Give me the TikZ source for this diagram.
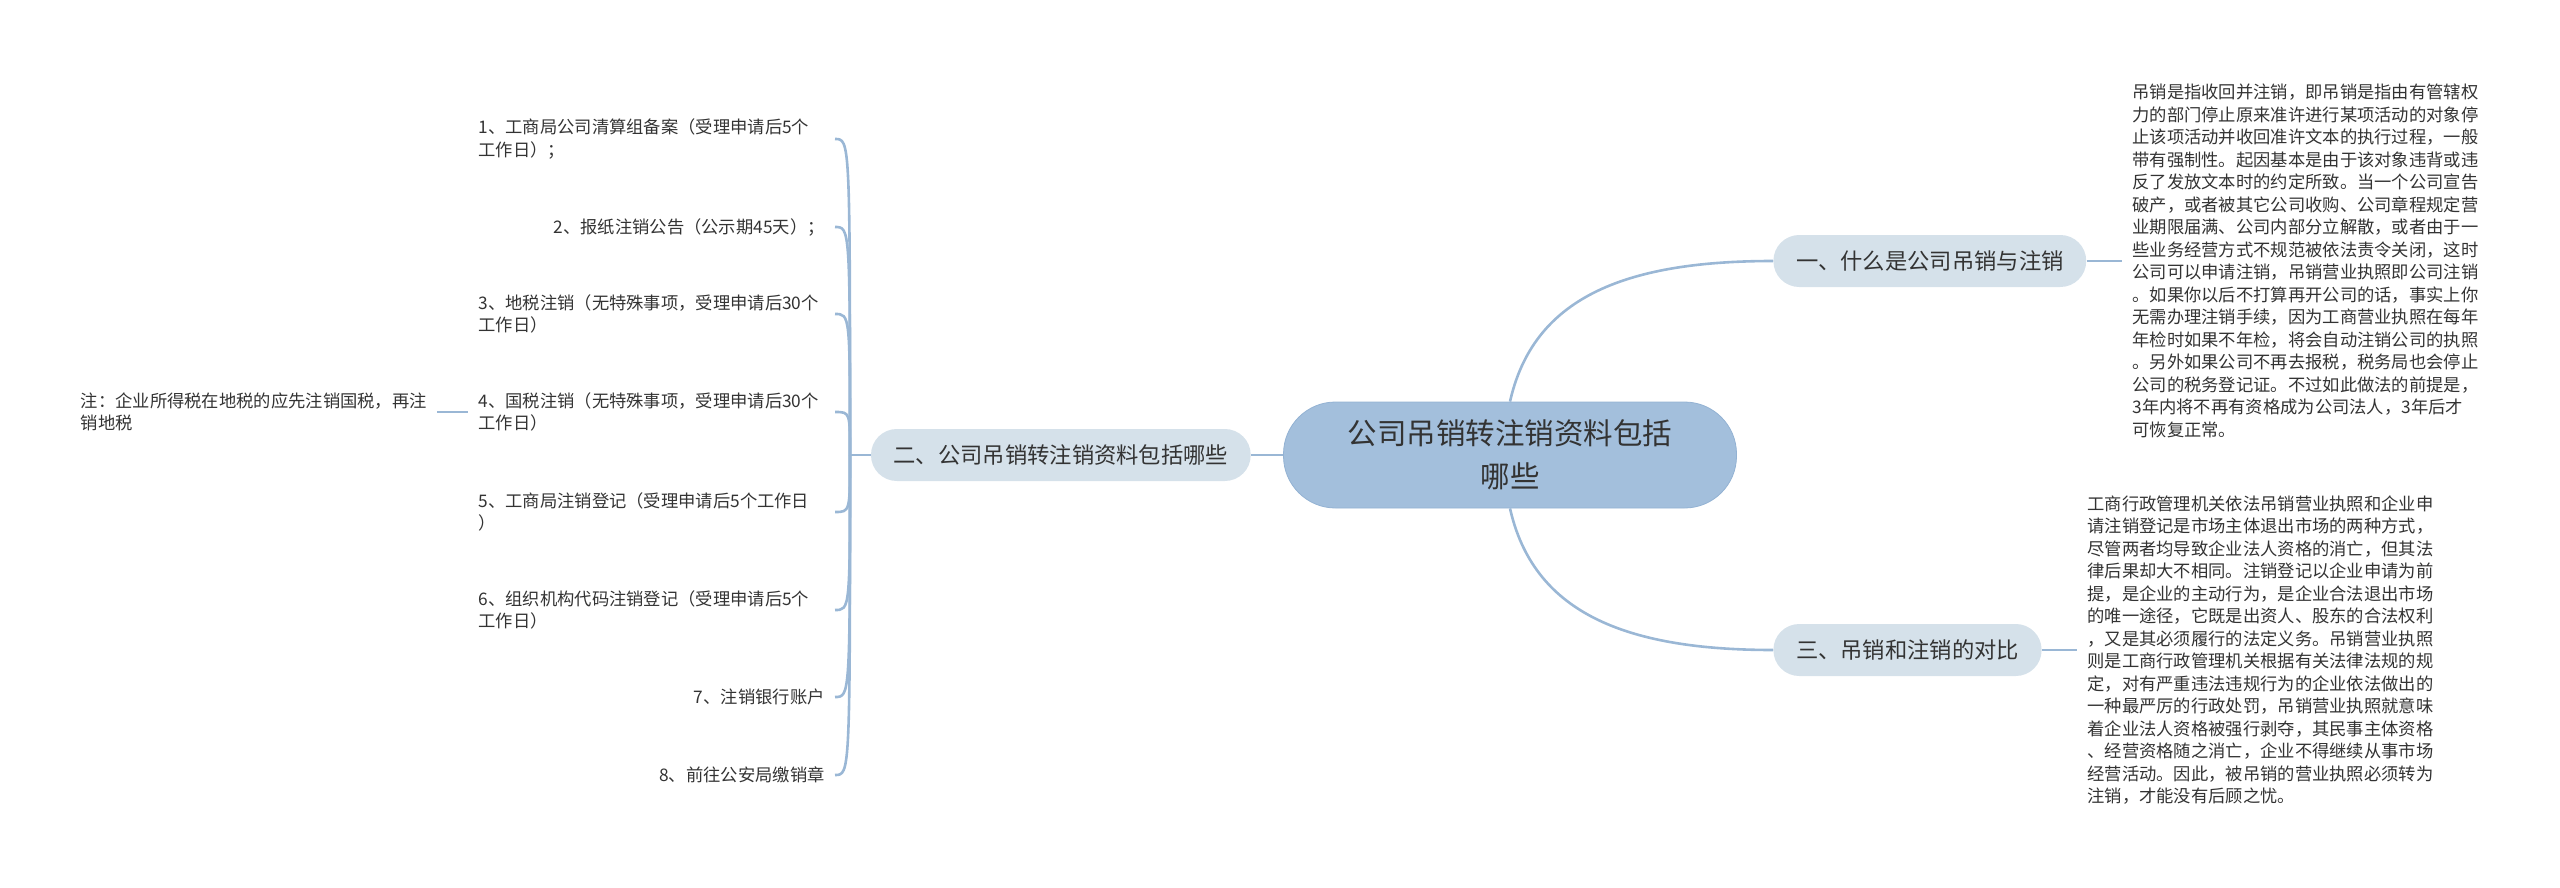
\documentclass[tikz,border=0pt]{standalone}
\usepackage{fontspec}
\setmainfont{Noto Sans CJK SC}
\usepackage{xcolor}
\usetikzlibrary{positioning, calc}
\definecolor{topicfill}{HTML}{A3BFDC}
\definecolor{topicline}{HTML}{93B2D3}
\definecolor{branchfill}{HTML}{D5E1EA}
\definecolor{edgeblue}{HTML}{9AB7D5}
\definecolor{inkgray}{HTML}{333333}

\begin{document}
\begin{tikzpicture}[
    x=0.5pt, y=-0.5pt,
    topic/.style={draw=topicline, fill=topicfill, rounded corners=26pt, minimum width=226.5pt, minimum height=53pt, align=center, text=inkgray, font=\fontsize{14.75}{21.5}\selectfont},
    branch/.style={fill=branchfill, rounded corners=12.9pt, minimum height=26pt, inner xsep=11.3pt, text=inkgray, font=\fontsize{11.15}{13}\selectfont},
    leaf/.style={inner xsep=5pt, inner ysep=0pt, align=left, text=inkgray, font=\fontsize{8.65}{11.25}\selectfont},
    leaftwo/.style={leaf, text width=173pt},
    edge/.style={draw=edgeblue, line width=1.3pt}
]
\useasboundingbox (0,0) rectangle (2560,888);

% Central topic
\node[topic] (topic) at (1510,455) {公司吊销转注销资料包括\\哪些};

% Branches
\node[branch, left=16pt of topic] (b2) {二、公司吊销转注销资料包括哪些};
\node[branch, anchor=west] (b1) at (1773,261) {一、什么是公司吊销与注销};
\node[branch, anchor=west] (b3) at (1773,650) {三、吊销和注销的对比};

% Right texts
\node[leaf, anchor=west] (d1) at (2122,261) {吊销是指收回并注销，即吊销是指由有管辖权\\
力的部门停止原来准许进行某项活动的对象停\\
止该项活动并收回准许文本的执行过程，一般\\
带有强制性。起因基本是由于该对象违背或违\\
反了发放文本时的约定所致。当一个公司宣告\\
破产，或者被其它公司收购、公司章程规定营\\
业期限届满、公司内部分立解散，或者由于一\\
些业务经营方式不规范被依法责令关闭，这时\\
公司可以申请注销，吊销营业执照即公司注销\\
。如果你以后不打算再开公司的话，事实上你\\
无需办理注销手续，因为工商营业执照在每年\\
年检时如果不年检，将会自动注销公司的执照\\
。另外如果公司不再去报税，税务局也会停止\\
公司的税务登记证。不过如此做法的前提是，\\
3年内将不再有资格成为公司法人，3年后才\\
可恢复正常。};
\node[leaf, anchor=west] (d2) at (2077,650) {工商行政管理机关依法吊销营业执照和企业申\\
请注销登记是市场主体退出市场的两种方式，\\
尽管两者均导致企业法人资格的消亡，但其法\\
律后果却大不相同。注销登记以企业申请为前\\
提，是企业的主动行为，是企业合法退出市场\\
的唯一途径，它既是出资人、股东的合法权利\\
，又是其必须履行的法定义务。吊销营业执照\\
则是工商行政管理机关根据有关法律法规的规\\
定，对有严重违法违规行为的企业依法做出的\\
一种最严厉的行政处罚，吊销营业执照就意味\\
着企业法人资格被强行剥夺，其民事主体资格\\
、经营资格随之消亡，企业不得继续从事市场\\
经营活动。因此，被吊销的营业执照必须转为\\
注销，才能没有后顾之忧。};

% Left steps
\node[leaftwo, anchor=east] (i1) at (835,139) {1、工商局公司清算组备案（受理申请后5个\\工作日）；};
\node[leaf, anchor=east] (i2) at (835,227) {2、报纸注销公告（公示期45天）；};
\node[leaftwo, anchor=east] (i3) at (835,314) {3、地税注销（无特殊事项，受理申请后30个\\工作日）};
\node[leaftwo, anchor=east] (i4) at (835,412) {4、国税注销（无特殊事项，受理申请后30个\\工作日）};
\node[leaftwo, anchor=east] (i5) at (835,512) {5、工商局注销登记（受理申请后5个工作日\\）};
\node[leaftwo, anchor=east] (i6) at (835,610) {6、组织机构代码注销登记（受理申请后5个\\工作日）};
\node[leaf, anchor=east] (i7) at (835,697) {7、注销银行账户};
\node[leaf, anchor=east] (i8) at (835,775) {8、前往公安局缴销章};
\node[leaf, left=15.5pt of i4] (note) {注：企业所得税在地税的应先注销国税，再注\\销地税};

% Connectors
\coordinate (hub) at (850,455);
\draw[edge] (topic) -- (b2);
\draw[edge] (topic.north) .. controls +(23,-102) and +(-152,0) .. (b1.west);
\draw[edge] (topic.south) .. controls +(23,102) and +(-152,0) .. (b3.west);
\draw[edge] (b1) -- (d1);
\draw[edge] (b3) -- (d2);
\draw[edge] (b2.west) -- (hub);
\draw[edge] (hub) .. controls (hub |- i1.east) .. (i1.east);
\draw[edge] (hub) .. controls (hub |- i2.east) .. (i2.east);
\draw[edge] (hub) .. controls (hub |- i3.east) .. (i3.east);
\draw[edge] (hub) .. controls (hub |- i4.east) .. (i4.east);
\draw[edge] (hub) .. controls (hub |- i5.east) .. (i5.east);
\draw[edge] (hub) .. controls (hub |- i6.east) .. (i6.east);
\draw[edge] (hub) .. controls (hub |- i7.east) .. (i7.east);
\draw[edge] (hub) .. controls (hub |- i8.east) .. (i8.east);
\draw[edge] (note) -- (i4);
\end{tikzpicture}
\end{document}
